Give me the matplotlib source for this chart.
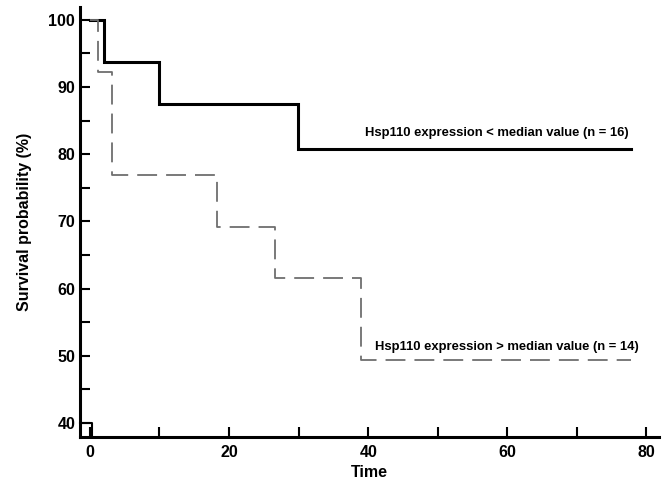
import matplotlib
matplotlib.use("Agg")
import matplotlib.pyplot as plt
from matplotlib.ticker import MultipleLocator

# Kaplan-Meier step data (time, survival %)
low_times = [0, 2.0, 10.0, 29.9, 77.8]
low_surv = [100, 93.75, 87.5, 80.8, 80.8]
high_times = [0, 1.1, 3.2, 18.3, 26.6, 38.9, 77.8]
high_surv = [100, 92.3, 76.9, 69.2, 61.5, 49.3, 49.3]

low_label = "Hsp110 expression < median value (n = 16)"
high_label = "Hsp110 expression > median value (n = 14)"

plt.rcParams['font.family'] = ['Liberation Sans', 'DejaVu Sans']

fig = plt.figure(figsize=(6.64, 4.86), dpi=100)
ax = fig.add_axes([0.1205, 0.1008, 0.872, 0.8848])

ax.step(low_times, low_surv, where='post', color='black', lw=2.2, solid_joinstyle='miter')
ax.step(high_times, high_surv, where='post', color='#6e6e6e', lw=1.3,
        dashes=(11, 5))

xmin, xmax = -1.42, 81.8
ymin, ymax = 37.9, 101.9
ax.set_xlim(xmin, xmax)
ax.set_ylim(ymin, ymax)

# small corner marker at origin
ax.plot([xmin, 0.25, 0.25], [40, 40, ymin], color='black', lw=1.5, clip_on=False)

ax.text(58.5, 83.2, low_label, fontsize=9.4, fontweight='bold', ha='center', va='center')
ax.text(60.0, 51.3, high_label, fontsize=9.4, fontweight='bold', ha='center', va='center')

for s in ['top', 'right']:
    ax.spines[s].set_visible(False)
for s in ['left', 'bottom']:
    ax.spines[s].set_linewidth(2.2)

ax.xaxis.set_major_locator(MultipleLocator(20))
ax.xaxis.set_minor_locator(MultipleLocator(10))
ax.yaxis.set_major_locator(MultipleLocator(10))
ax.yaxis.set_minor_locator(MultipleLocator(5))
ax.tick_params(which='both', direction='in', width=1.5, length=7, labelsize=11.5)
ax.tick_params(axis='x', pad=6)
for lab in ax.get_xticklabels() + ax.get_yticklabels():
    lab.set_fontweight('bold')

ax.set_xlabel('Time', fontsize=11.5, fontweight='bold', labelpad=3)
ax.set_ylabel('Survival probability (%)', fontsize=11.5, fontweight='bold', labelpad=12)

fig.savefig('out.png', dpi=100)
